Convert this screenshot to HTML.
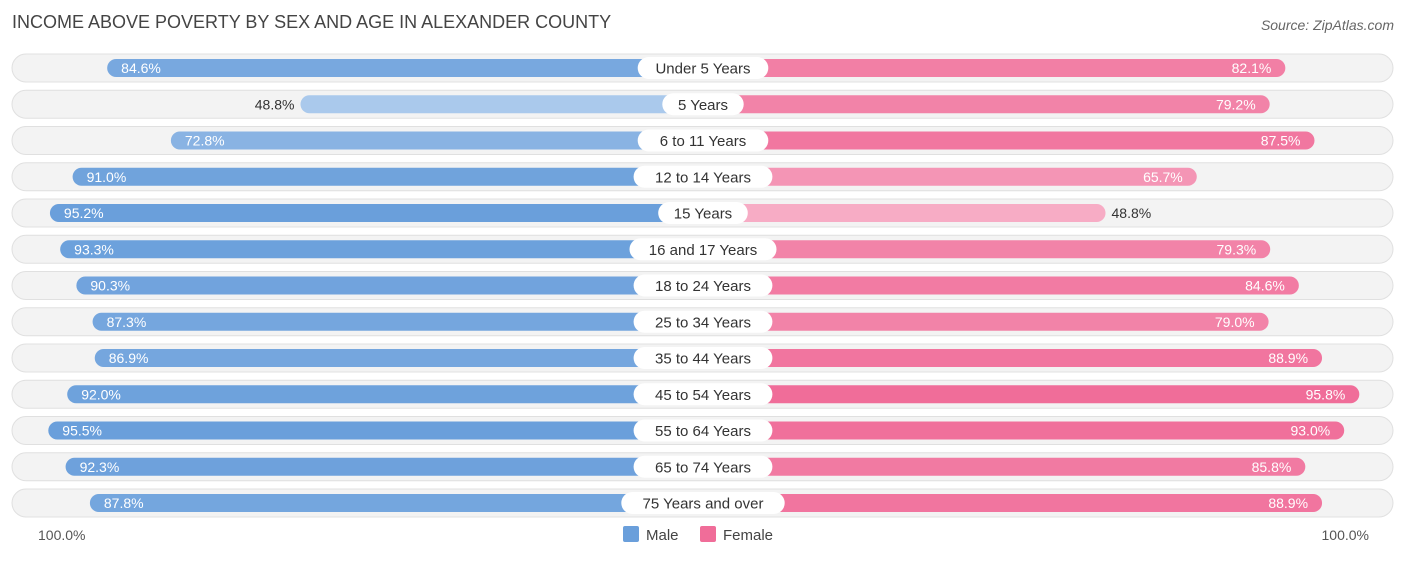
<!DOCTYPE html>
<html><head><meta charset="utf-8"><style>
body{margin:0;background:#fff;font-family:"Liberation Sans",sans-serif;}
svg text{font-family:"Liberation Sans",sans-serif;}
</style></head><body>
<svg id="chart" width="1406" height="559">
<text x="12" y="28" font-size="18" fill="#444">INCOME ABOVE POVERTY BY SEX AND AGE IN ALEXANDER COUNTY</text>
<text x="1394" y="30" font-size="14" fill="#666" font-style="italic" text-anchor="end">Source: ZipAtlas.com</text>
<g id="rows"></g>
<text x="38" y="540" font-size="14" fill="#555">100.0%</text>
<text x="1369" y="540" font-size="14" fill="#555" text-anchor="end">100.0%</text>
<rect x="623" y="526" width="16" height="16" rx="2" fill="#6a9fdb"/>
<text x="646" y="540" font-size="15" fill="#444">Male</text>
<rect x="700" y="526" width="16" height="16" rx="2" fill="#f06d99"/>
<text x="723" y="540" font-size="15" fill="#444">Female</text>
</svg>
<script>
const categories=["Under 5 Years","5 Years","6 to 11 Years","12 to 14 Years","15 Years","16 and 17 Years","18 to 24 Years","25 to 34 Years","35 to 44 Years","45 to 54 Years","55 to 64 Years","65 to 74 Years","75 Years and over"];
const maleValues=[84.6,48.8,72.8,91.0,95.2,93.3,90.3,87.3,86.9,92.0,95.5,92.3,87.8];
const femaleValues=[82.1,79.2,87.5,65.7,48.8,79.3,84.6,79.0,88.9,95.8,93.0,85.8,88.9];
const cx=703, y0=68, step=36.25;
function len(v){return 139+5.4*v;}
function mix(a,b,t){return 'rgb('+a.map((x,i)=>Math.round(x+(b[i]-x)*t)).join(',')+')';}
function col(v,strong,light){let t=Math.max(0,Math.min(1,(95-v)/46));return mix(strong,light,t);}
const NS="http://www.w3.org/2000/svg";
const g=document.getElementById('rows');
function mk(tag,attrs,parent){const e=document.createElementNS(NS,tag);for(const k in attrs)e.setAttribute(k,attrs[k]);parent.appendChild(e);return e;}
categories.forEach((c,i)=>{
  const y=y0+i*step;
  const row=mk('g',{},g);
  
  
  const bg=mk('rect',{x:12,y:y-14,width:1381,height:28,rx:14,fill:'#f3f3f3',stroke:'#e0e0e0'},row);
  
  
  const mv=maleValues[i], fv=femaleValues[i];
  const ml=len(mv), fl=len(fv);
  const mb=mk('rect',{x:cx-ml,y:y-9,width:ml,height:18,rx:9,fill:col(mv,[106,159,219],[170,201,236])},row);
  
  
  const fb=mk('rect',{x:cx,y:y-9,width:fl,height:18,rx:9,fill:col(fv,[240,109,153],[247,172,197])},row);
  
  
  const mInside=mv>60, fInside=fv>60;
  const mt=mk('text',{x:mInside?cx-ml+14:cx-ml-6,y:y+5,'font-size':14,fill:mInside?'#fff':'#333','text-anchor':mInside?'start':'end'},row);
  mt.textContent=mv.toFixed(1)+'%';
  
  
  const ft=mk('text',{x:fInside?cx+fl-14:cx+fl+6,y:y+5,'font-size':14,fill:fInside?'#fff':'#333','text-anchor':fInside?'end':'start'},row);
  ft.textContent=fv.toFixed(1)+'%';
  
  
  const w=c.length*8.2+24;
  const pill=mk('rect',{x:cx-w/2,y:y-11,width:w,height:22,rx:11,fill:'#fff'},row);
  
  
  const lt=mk('text',{x:cx,y:y+5.5,'font-size':15,fill:'#333','text-anchor':'middle'},row);
  lt.textContent=c;
  
  
});
</script>
</body></html>
